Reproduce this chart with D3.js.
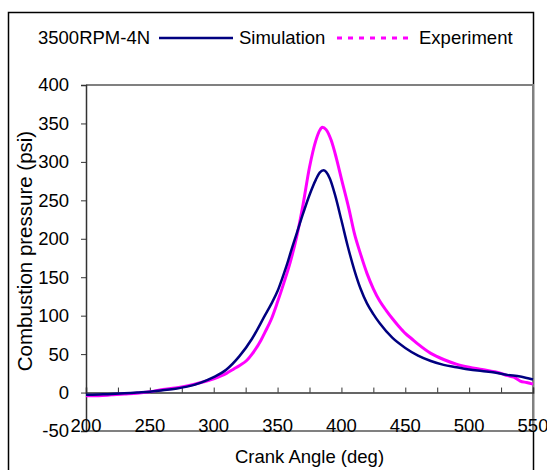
<!DOCTYPE html>
<html>
<head>
<meta charset="utf-8">
<script src="https://cdn.jsdelivr.net/npm/d3@7"></script>
<style>
  body { margin: 0; background: #fff; }
  text { font-family: "Liberation Sans", Arial, sans-serif; fill: #000; }
</style>
</head>
<body>
<script>
const width = 547;
const height = 470;
const margin = {left: 86, right: 14, top: 85, bottom: 39};

// crank angle (deg) and pressure (psi)
const simAngle = [200, 210, 220, 230, 240, 250, 260, 270, 280, 290, 300, 310, 320, 330, 340, 345, 350, 355, 358, 360, 365, 370, 375, 380, 383, 386, 388, 391, 395, 400, 405, 410, 415, 420, 425, 430, 440, 450, 460, 470, 480, 490, 500, 510, 520, 530, 540, 550];
const simPressure = [-3, -2.5, -2, -1, 0, 1, 3, 5, 8, 13, 20, 30, 47, 70, 100, 115, 132, 155, 170, 181, 207, 233, 257, 277, 286, 289, 287, 278, 257, 224, 190, 160, 135, 116, 102, 90, 71, 58, 48, 41, 36, 33, 30, 28, 26, 23, 21, 17];

const expAngle = [200, 210, 220, 230, 240, 250, 260, 270, 280, 290, 300, 310, 316, 320, 326, 330, 337, 340, 345, 350, 355, 360, 365, 370, 375, 380, 383, 385, 388, 392, 396, 400, 406, 410, 415, 420, 425, 430, 435, 440, 445, 450, 455, 460, 470, 480, 490, 500, 510, 520, 525, 530, 535, 540, 545, 550];
const expPressure = [-4, -4, -3, -2, -1, 1, 4, 6, 9, 13, 18, 25, 31, 35, 42, 50, 68, 78, 95, 118, 143, 170, 203, 245, 293, 328, 341, 345, 342, 328, 305, 278, 238, 208, 180, 155, 135, 119, 107, 96, 86, 77, 70, 63, 51, 43, 37, 33, 30, 27, 25, 22, 20, 15, 13, 11];

const xTicks = [200, 250, 300, 350, 400, 450, 500, 550];
const xMinorTicks = d3.range(200, 551, 25);
const yTicks = [-50, 0, 50, 100, 150, 200, 250, 300, 350, 400];

const caseLabel = '3500RPM-4N';
const seriesNames = ['Simulation', 'Experiment'];

const svg = d3.select('body').append('svg')
  .attr('width', width)
  .attr('height', height);

// outer frame
svg.append('rect')
  .attr('x', 8.5)
  .attr('y', 12.5)
  .attr('width', 525)
  .attr('height', 480)
  .attr('fill', 'none')
  .attr('stroke', '#000')
  .attr('stroke-width', 1.5);

const x = d3.scaleLinear()
  .domain([200, 550])
  .range([margin.left, width - margin.right]);

const y = d3.scaleLinear()
  .domain([-50, 400])
  .range([height - margin.bottom, margin.top]);

// plot border (top, right, bottom)
svg.append('path')
  .attr('d', `M${x(200)},${y(400)}H${x(550)}V${y(-50)}H${x(200)}`)
  .attr('fill', 'none')
  .attr('stroke', '#808080')
  .attr('stroke-width', 2);

// y axis
const yAxis = svg.append('g')
  .attr('transform', `translate(${x(200)},0)`)
  .call(d3.axisLeft(y).tickValues(yTicks).tickSize(5).tickPadding(12).tickFormat(d => String(d)));
yAxis.select('.domain').attr('stroke', '#333').attr('stroke-width', 1.5);
yAxis.selectAll('.tick line').attr('stroke', '#333');
yAxis.selectAll('text').style('font-size', '18.5px').attr('fill', '#000');
yAxis.selectAll('.tick').filter(d => d === -50).select('line').remove();

// x axis on the zero line, ticks pointing up
const xAxis = svg.append('g')
  .attr('transform', `translate(0,${y(0)})`)
  .call(d3.axisTop(x).tickValues(xMinorTicks).tickSize(5).tickFormat(''));
xAxis.select('.domain').attr('stroke', '#333').attr('stroke-width', 1.5);
xAxis.selectAll('.tick line').attr('stroke', '#333');

// x tick labels at the bottom
svg.append('g')
  .selectAll('text')
  .data(xTicks)
  .enter()
  .append('text')
  .attr('x', d => x(d))
  .attr('y', y(-50) + 1)
  .attr('text-anchor', 'middle')
  .style('font-size', '18.5px')
  .text(d => d);

// axis titles
svg.append('text')
  .attr('x', (x(200) + x(550)) / 2)
  .attr('y', 463)
  .attr('text-anchor', 'middle')
  .style('font-size', '18.5px')
  .text('Crank Angle (deg)');

svg.append('text')
  .attr('transform', 'translate(32,251) rotate(-90)')
  .attr('text-anchor', 'middle')
  .style('font-size', '20.5px')
  .text('Combustion pressure (psi)');

const line = d3.line()
  .x(d => x(d[0]))
  .y(d => y(d[1]))
  .curve(d3.curveMonotoneX);

svg.append('path')
  .datum(d3.zip(expAngle, expPressure))
  .attr('d', line)
  .attr('fill', 'none')
  .attr('stroke', '#ff00ff')
  .attr('stroke-width', 3);

svg.append('path')
  .datum(d3.zip(simAngle, simPressure))
  .attr('d', line)
  .attr('fill', 'none')
  .attr('stroke', '#000080')
  .attr('stroke-width', 2.5);

// legend
const legendY = 38;
svg.append('text')
  .attr('x', 38)
  .attr('y', legendY + 6)
  .style('font-size', '18.5px')
  .text(caseLabel);

svg.append('line')
  .attr('x1', 159).attr('x2', 233)
  .attr('y1', legendY).attr('y2', legendY)
  .attr('stroke', '#000080')
  .attr('stroke-width', 2.5);

svg.append('text')
  .attr('x', 239)
  .attr('y', legendY + 6)
  .style('font-size', '18.5px')
  .text(seriesNames[0]);

svg.append('line')
  .attr('x1', 337).attr('x2', 414)
  .attr('y1', legendY).attr('y2', legendY)
  .attr('stroke', '#ff00ff')
  .attr('stroke-width', 3)
  .attr('stroke-dasharray', '5,6');

svg.append('text')
  .attr('x', 419)
  .attr('y', legendY + 6)
  .style('font-size', '18.5px')
  .text(seriesNames[1]);
</script>
</body>
</html>
